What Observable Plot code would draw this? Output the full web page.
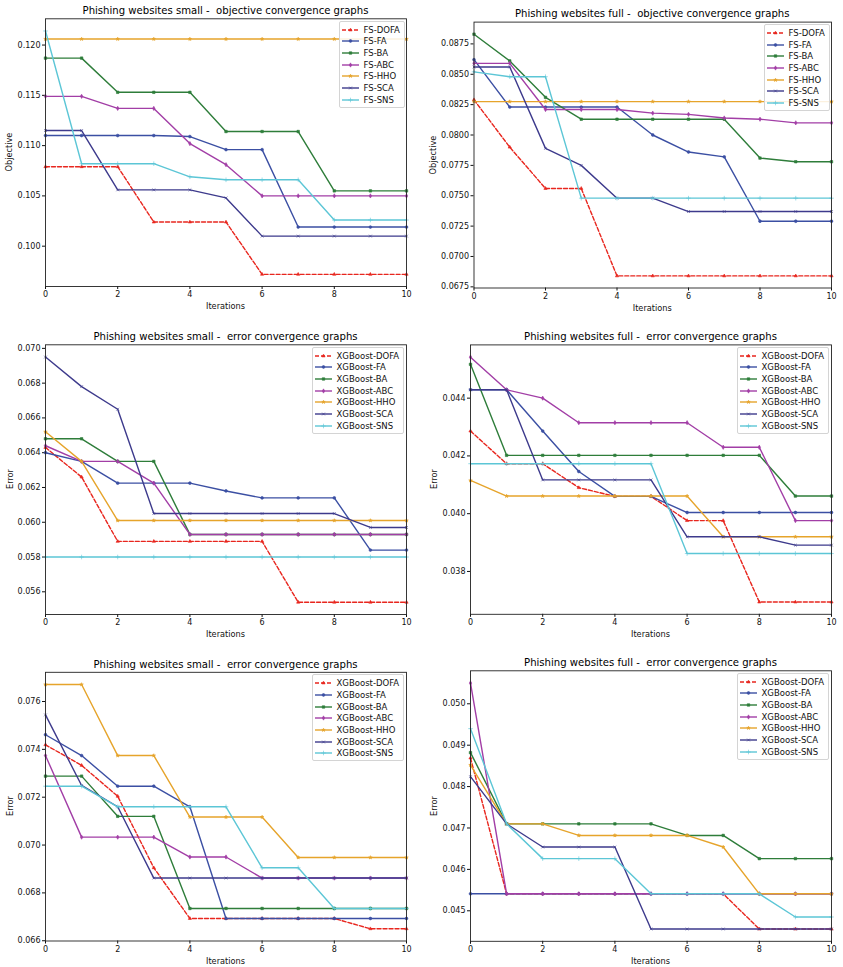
<!DOCTYPE html>
<html><head><meta charset="utf-8">
<script src="https://cdn.jsdelivr.net/npm/d3@7"></script>
<script src="https://cdn.jsdelivr.net/npm/@observablehq/plot@0.6"></script>
<style>
body{margin:0;background:#fff;}
#root{position:relative;width:843px;height:967px;font-family:"DejaVu Sans",sans-serif;color:#111;overflow:hidden;}
.panel{position:absolute;}
.title{position:absolute;font-size:10.1px;white-space:pre;transform:translate(-50%,-50%);color:#000;}
.xlabel{position:absolute;font-size:8.2px;transform:translate(-50%,-50%);}
.ylabel{position:absolute;font-size:8.2px;transform:translate(-50%,-50%) rotate(-90deg);}
.legend{position:absolute;background:rgba(255,255,255,0.85);border:1px solid #d4d4d4;border-radius:2px;padding:2px 4px 1px 2px;font-size:8.5px;}
.legend .row{display:flex;align-items:center;height:11.7px;}
.legend svg{margin-right:5px;}
</style></head>
<body><div id="root"></div>
<script>
const iterations = [0,1,2,3,4,5,6,7,8,9,10];
const xTicks = [0,2,4,6,8,10];
const algorithms = ["DOFA","FA","BA","ABC","HHO","SCA","SNS"];
const colors = ["#e8261e","#3b4fa3","#2e7d3a","#a23ea6","#e6a42b","#3d3a8c","#5cc6d6"];
const symbols = ["triangle","circle","square","diamond","star","times","plus"];

// rows: DOFA, FA, BA, ABC, HHO, SCA, SNS
const objSmall = [
  [0.1079,0.1079,0.1079,0.1024,0.1024,0.1024,0.0972,0.0972,0.0972,0.0972,0.0972],
  [0.1110,0.1110,0.1110,0.1110,0.1109,0.1096,0.1096,0.1019,0.1019,0.1019,0.1019],
  [0.1187,0.1187,0.1153,0.1153,0.1153,0.1114,0.1114,0.1114,0.1055,0.1055,0.1055],
  [0.1149,0.1149,0.1137,0.1137,0.1102,0.1081,0.1050,0.1050,0.1050,0.1050,0.1050],
  [0.1206,0.1206,0.1206,0.1206,0.1206,0.1206,0.1206,0.1206,0.1206,0.1206,0.1206],
  [0.1115,0.1115,0.1056,0.1056,0.1056,0.1048,0.1010,0.1010,0.1010,0.1010,0.1010],
  [0.1214,0.1082,0.1082,0.1082,0.1069,0.1066,0.1066,0.1066,0.1026,0.1026,0.1026]
];
const objFull = [
  [0.0829,0.0790,0.0756,0.0756,0.0684,0.0684,0.0684,0.0684,0.0684,0.0684,0.0684],
  [0.0862,0.0823,0.0823,0.0823,0.0823,0.0800,0.0786,0.0782,0.0729,0.0729,0.0729],
  [0.0883,0.0861,0.0831,0.0813,0.0813,0.0813,0.0813,0.0813,0.0781,0.0778,0.0778],
  [0.0859,0.0859,0.0821,0.0821,0.0821,0.0818,0.0817,0.0814,0.0813,0.0810,0.0810],
  [0.08275,0.08275,0.08275,0.08275,0.08275,0.08275,0.08275,0.08275,0.08275,0.08275,0.08275],
  [0.0856,0.0856,0.0789,0.0775,0.0748,0.0748,0.0737,0.0737,0.0737,0.0737,0.0737],
  [0.0852,0.0848,0.0848,0.0748,0.0748,0.0748,0.0748,0.0748,0.0748,0.0748,0.0748]
];
const errSmallA = [
  [0.0643,0.0626,0.0589,0.0589,0.0589,0.0589,0.0589,0.0554,0.0554,0.0554,0.0554],
  [0.0640,0.0635,0.06225,0.06225,0.06225,0.0618,0.0614,0.0614,0.0614,0.0584,0.0584],
  [0.0648,0.0648,0.0635,0.0635,0.0593,0.0593,0.0593,0.0593,0.0593,0.0593,0.0593],
  [0.0644,0.0635,0.0635,0.06225,0.0593,0.0593,0.0593,0.0593,0.0593,0.0593,0.0593],
  [0.0652,0.0635,0.0601,0.0601,0.0601,0.0601,0.0601,0.0601,0.0601,0.0601,0.0601],
  [0.0695,0.0678,0.0665,0.0605,0.0605,0.0605,0.0605,0.0605,0.0605,0.0597,0.0597],
  [0.0580,0.0580,0.0580,0.0580,0.0580,0.0580,0.0580,0.0580,0.0580,0.0580,0.0580]
];
const errFullA = [
  [0.04286,0.04173,0.04173,0.0409,0.0406,0.0406,0.03976,0.03976,0.03694,0.03694,0.03694],
  [0.04429,0.04429,0.04286,0.04146,0.0406,0.0406,0.04004,0.04004,0.04004,0.04004,0.04004],
  [0.04517,0.04202,0.04202,0.04202,0.04202,0.04202,0.04202,0.04202,0.04202,0.04061,0.04061],
  [0.04542,0.04429,0.0440,0.04315,0.04315,0.04315,0.04315,0.0423,0.0423,0.03976,0.03976],
  [0.04115,0.04061,0.04061,0.04061,0.04061,0.04061,0.04061,0.0392,0.0392,0.0392,0.0392],
  [0.04429,0.04429,0.04117,0.04117,0.04117,0.04117,0.0392,0.0392,0.0392,0.03891,0.03891],
  [0.04173,0.04173,0.04173,0.04173,0.04173,0.04173,0.03862,0.03862,0.03862,0.03862,0.03862]
];
const errSmallB = [
  [0.07419,0.07333,0.07204,0.06905,0.06693,0.06693,0.06693,0.06693,0.06693,0.0665,0.0665],
  [0.07461,0.07374,0.07246,0.07246,0.0716,0.06693,0.06693,0.06693,0.06693,0.06693,0.06693],
  [0.07288,0.07288,0.0712,0.0712,0.06735,0.06735,0.06735,0.06735,0.06735,0.06735,0.06735],
  [0.07374,0.07033,0.07033,0.07033,0.0695,0.0695,0.06862,0.06862,0.06862,0.06862,0.06862],
  [0.07671,0.07671,0.07374,0.07374,0.07117,0.07117,0.07117,0.06948,0.06948,0.06948,0.06948],
  [0.07544,0.07249,0.0716,0.06862,0.06862,0.06862,0.06862,0.06862,0.06862,0.06862,0.06862],
  [0.07246,0.07246,0.0716,0.0716,0.0716,0.0716,0.06905,0.06905,0.06735,0.06735,0.06735]
];
const errFullB = [
  [0.04869,0.04541,0.04541,0.04541,0.04541,0.04541,0.04541,0.04541,0.04456,0.04456,0.04456],
  [0.04541,0.04541,0.04541,0.04541,0.04541,0.04541,0.04541,0.04541,0.04541,0.04541,0.04541],
  [0.04882,0.0471,0.0471,0.0471,0.0471,0.0471,0.04682,0.04682,0.04626,0.04626,0.04626],
  [0.0505,0.04541,0.04541,0.04541,0.04541,0.04541,0.04541,0.04541,0.04541,0.04541,0.04541],
  [0.04852,0.0471,0.0471,0.04682,0.04682,0.04682,0.04682,0.04654,0.04541,0.04541,0.04541],
  [0.04824,0.0471,0.04654,0.04654,0.04654,0.04456,0.04456,0.04456,0.04456,0.04456,0.04456],
  [0.0494,0.0471,0.04626,0.04626,0.04626,0.04541,0.04541,0.04541,0.04541,0.04485,0.04485]
];

const ticksObjSmall = [0.100,0.105,0.110,0.115,0.120];
const ticksObjFull = [0.0675,0.0700,0.0725,0.0750,0.0775,0.0800,0.0825,0.0850,0.0875];
const ticksErrSmallA = [0.056,0.058,0.060,0.062,0.064,0.066,0.068,0.070];
const ticksErrFullA = [0.038,0.040,0.042,0.044];
const ticksErrSmallB = [0.066,0.068,0.070,0.072,0.074,0.076];
const ticksErrFullB = [0.045,0.046,0.047,0.048,0.049,0.050];

const panels = [
  {title:"Phishing websites small -  objective convergence graphs", values:objSmall, prefix:"FS-", ylabel:"Objective", ticks:ticksObjSmall, fmt:".3f",
   left:0, top:0, width:422, height:310, mt:18.3, mb:24, ml:45, mr:16, yl:36},
  {title:"Phishing websites full -  objective convergence graphs", values:objFull, prefix:"FS-", ylabel:"Objective", ticks:ticksObjFull, fmt:".4f",
   left:422, top:0, width:421, height:310, mt:21.6, mb:22.5, ml:51.5, mr:12, yl:41},
  {title:"Phishing websites small -  error convergence graphs", values:errSmallA, prefix:"XGBoost-", ylabel:"Error", ticks:ticksErrSmallA, fmt:".3f",
   left:0, top:320, width:422, height:320, mt:24.3, mb:26, ml:45, mr:16, yl:35},
  {title:"Phishing websites full -  error convergence graphs", values:errFullA, prefix:"XGBoost-", ylabel:"Error", ticks:ticksErrFullA, fmt:".3f",
   left:422, top:320, width:421, height:320, mt:24.4, mb:26.2, ml:48, mr:12, yl:36},
  {title:"Phishing websites small -  error convergence graphs", values:errSmallB, prefix:"XGBoost-", ylabel:"Error", ticks:ticksErrSmallB, fmt:".3f",
   left:0, top:645, width:422, height:322, mt:26.8, mb:26.5, ml:45, mr:16, yl:35},
  {title:"Phishing websites full -  error convergence graphs", values:errFullB, prefix:"XGBoost-", ylabel:"Error", ticks:ticksErrFullB, fmt:".3f",
   left:422, top:645, width:421, height:322, mt:25.3, mb:26.2, ml:48, mr:12, yl:36}
];

const symR = [1.2, 1.4, 1.4, 1.3, 1.1, 1.4, 1.6];
const d3sym = {triangle:d3.symbolTriangle, circle:d3.symbolCircle, square:d3.symbolSquare, diamond:d3.symbolDiamond, star:d3.symbolStar, times:d3.symbolTimes, plus:d3.symbolPlus};
const root = document.getElementById("root");

function drawPanel(cfg) {
  const all = cfg.values.flat();
  const mn = d3.min(all), mx = d3.max(all), pad = (mx - mn) * 0.05;
  const marks = [];
  algorithms.forEach((a, s) => {
    const d = cfg.values[s].map((v, i) => ({it: iterations[i], v}));
    marks.push(Plot.line(d, {x:"it", y:"v", stroke:colors[s], strokeWidth:1.4, strokeDasharray: s === 0 ? "4,2" : null}));
    marks.push(Plot.dot(d, {x:"it", y:"v", symbol:symbols[s], r:symR[s], fill:colors[s], stroke:colors[s], strokeWidth:0.6}));
  });
  marks.push(Plot.frame({stroke:"#222", strokeWidth:0.9}));
  const svg = Plot.plot({
    width:cfg.width, height:cfg.height,
    marginTop:cfg.mt, marginBottom:cfg.mb, marginLeft:cfg.ml, marginRight:cfg.mr,
    x:{domain:[0,10], ticks:xTicks, tickSize:3, tickPadding:2, label:null},
    y:{domain:[mn - pad, mx + pad], ticks:cfg.ticks, tickFormat:d3.format(cfg.fmt), tickSize:3, tickPadding:2, label:null},
    style:{fontFamily:"DejaVu Sans", fontSize:"8px", color:"#111", background:"transparent", overflow:"visible"},
    marks
  });
  const wrap = document.createElement("div");
  wrap.className = "panel";
  wrap.style.left = cfg.left + "px"; wrap.style.top = cfg.top + "px";
  wrap.appendChild(svg);
  root.appendChild(wrap);

  const fx0 = cfg.left + cfg.ml, fx1 = cfg.left + cfg.width - cfg.mr;
  const fy0 = cfg.top + cfg.mt, fy1 = cfg.top + cfg.height - cfg.mb;

  const t = document.createElement("div");
  t.className = "title"; t.textContent = cfg.title;
  t.style.left = (fx0 + fx1) / 2 + "px"; t.style.top = (fy0 - 8.3) + "px";
  root.appendChild(t);

  const xl = document.createElement("div");
  xl.className = "xlabel"; xl.textContent = "Iterations";
  xl.style.left = (fx0 + fx1) / 2 + "px"; xl.style.top = (fy1 + 20) + "px";
  root.appendChild(xl);

  const yl = document.createElement("div");
  yl.className = "ylabel"; yl.textContent = cfg.ylabel;
  yl.style.left = (fx0 - cfg.yl) + "px"; yl.style.top = (fy0 + fy1) / 2 + "px";
  root.appendChild(yl);

  const lg = document.createElement("div");
  lg.className = "legend";
  algorithms.forEach((a, s) => {
    const row = document.createElement("div");
    row.className = "row";
    const sw = d3.create("svg").attr("width", 17).attr("height", 8);
    sw.append("line").attr("x1", 0).attr("x2", 17).attr("y1", 4).attr("y2", 4)
      .attr("stroke", colors[s]).attr("stroke-width", 1.4).attr("stroke-dasharray", s === 0 ? "4,2" : null);
    sw.append("path").attr("transform", "translate(8.5,4)")
      .attr("d", d3.symbol().type(d3sym[symbols[s]]).size(Math.PI * symR[s] * symR[s])())
      .attr("fill", colors[s]).attr("stroke", colors[s]).attr("stroke-width", 0.6);
    row.appendChild(sw.node());
    const lab = document.createElement("span");
    lab.textContent = cfg.prefix + a;
    row.appendChild(lab);
    lg.appendChild(row);
  });
  root.appendChild(lg);
  lg.style.top = (fy0 + 2.5) + "px";
  lg.style.left = (fx1 - 1.5 - lg.offsetWidth) + "px";
}
panels.forEach(drawPanel);
</script></body></html>
